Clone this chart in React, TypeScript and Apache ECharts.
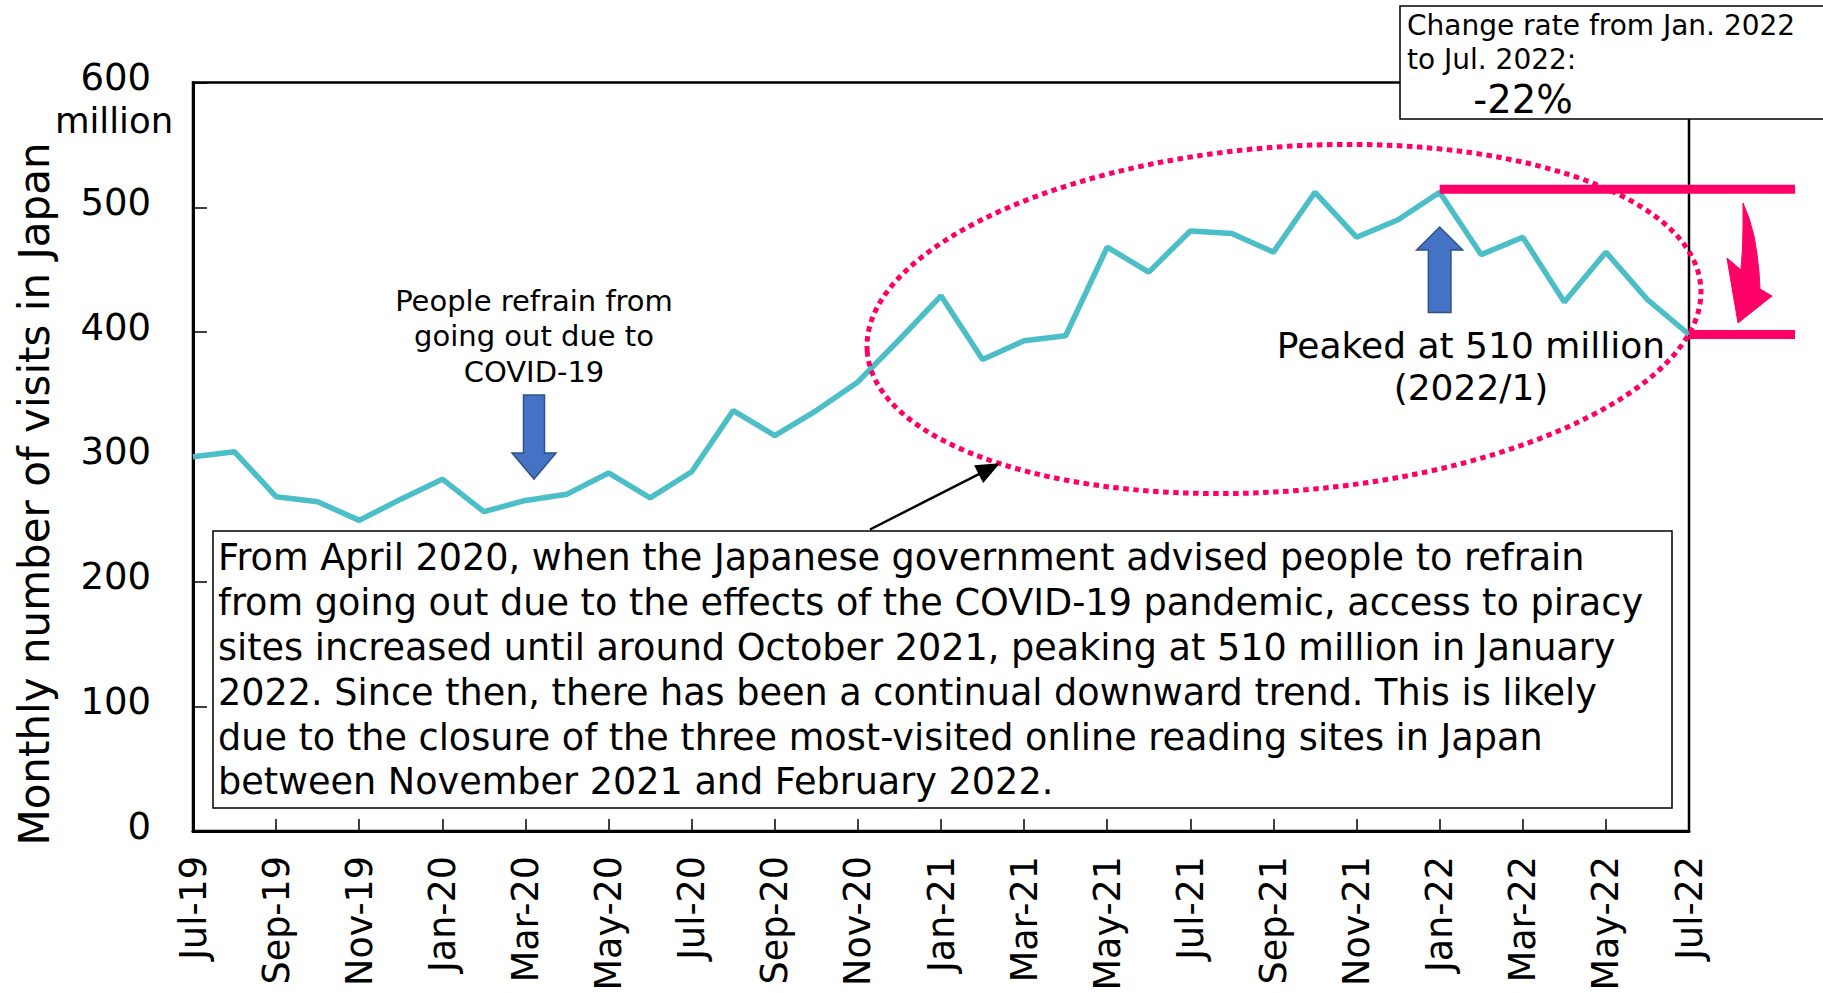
import React, { useEffect, useRef } from "react";
import * as echarts from "echarts";

const months = [
  "Jul-19", "Aug-19", "Sep-19", "Oct-19", "Nov-19", "Dec-19",
  "Jan-20", "Feb-20", "Mar-20", "Apr-20", "May-20", "Jun-20",
  "Jul-20", "Aug-20", "Sep-20", "Oct-20", "Nov-20", "Dec-20",
  "Jan-21", "Feb-21", "Mar-21", "Apr-21", "May-21", "Jun-21",
  "Jul-21", "Aug-21", "Sep-21", "Oct-21", "Nov-21", "Dec-21",
  "Jan-22", "Feb-22", "Mar-22", "Apr-22", "May-22", "Jun-22",
  "Jul-22",
];

// Monthly visits (millions)
const visits = [
  300, 304, 268, 264, 249, 266,
  282, 256, 265, 270, 287, 267,
  288, 337, 317, 337, 360, 394,
  429, 378, 393, 397, 468, 448,
  481, 479, 464, 512, 476, 490,
  512, 462, 476, 424, 464, 426,
  398,
];

const yMin = 0;
const yMax = 600;
const yStep = 100;

const peakMonth = "Jan-22";
const lastMonth = "Jul-22";

const yAxisTitle = "Monthly number of visits in Japan";
const yUnit = "million";
const covidNote = ["People refrain from", "going out due to", "COVID-19"];
const peakNote = ["Peaked at 510 million", "(2022/1)"];
const changeNote = ["Change rate from Jan. 2022", "to Jul. 2022:"];
const changeValue = "-22%";
const boxLines = [
  "From April 2020, when the Japanese government advised people to refrain",
  "from going out due to the effects of the COVID-19 pandemic, access to piracy",
  "sites increased until around October 2021, peaking at 510 million in January",
  "2022. Since then, there has been a continual downward trend. This is likely",
  "due to the closure of the three most-visited online reading sites in Japan",
  "between November 2021 and February 2022.",
];

const FONT = "'DejaVu Sans', Verdana, sans-serif";
const TEAL = "#4BBEC8";
const PINK = "#FF0066";
const BLUE = "#4472C4";
const BLUE_DARK = "#2F528F";

function txt(text: string, x: number, y: number, size: number, align = "left", extra: any = {}) {
  return {
    type: "text",
    z: 20,
    x,
    y,
    ...extra,
    style: {
      text,
      x: 0,
      y: 0,
      fontSize: size,
      fontFamily: FONT,
      fill: "#000",
      align,
      textAlign: align,
      verticalAlign: "middle",
      textVerticalAlign: "middle",
      ...(extra.style || {}),
    },
  };
}

export default function App() {
  const ref = useRef<HTMLDivElement>(null);

  useEffect(() => {
    document.body.style.margin = "0";
    document.body.style.overflow = "hidden";
    const chart = echarts.init(ref.current!, null, { renderer: "svg" });

    chart.setOption({
      animation: false,
      backgroundColor: "#fff",
      textStyle: { fontFamily: FONT },
      grid: {
        left: 193,
        right: 134,
        top: 82.5,
        bottom: 162,
        show: true,
        borderColor: "#000",
        borderWidth: 2.5,
        containLabel: false,
        outerBoundsMode: "none",
      },
      xAxis: {
        type: "category",
        data: months,
        boundaryGap: false,
        axisLine: { lineStyle: { color: "#000", width: 3 } },
        axisTick: {
          show: true,
          inside: true,
          length: 12,
          interval: 1,
          lineStyle: { color: "#000", width: 1.5 },
        },
        axisLabel: {
          interval: 1,
          rotate: 90,
          fontSize: 36.5,
          color: "#000",
          margin: 25,
          fontFamily: FONT,
        },
        splitLine: { show: false },
      },
      yAxis: {
        type: "value",
        min: yMin,
        max: yMax,
        interval: yStep,
        axisLine: { show: true, lineStyle: { color: "#000", width: 3 } },
        axisTick: {
          show: true,
          inside: true,
          length: 14,
          lineStyle: { color: "#000", width: 1.5 },
        },
        axisLabel: {
          color: "#000",
          margin: 42,
          fontFamily: FONT,
          formatter: (v: number) => `{t|${v}}`,
          rich: {
            t: { fontSize: 37, fontFamily: FONT, color: "#000", padding: [0, 0, 10, 0] },
          },
        },
        splitLine: { show: false },
      },
      series: [
        {
          type: "line",
          data: visits,
          symbol: "none",
          lineStyle: { color: TEAL, width: 5.5 },
          z: 3,
        },
      ],
    });

    const peakIdx = months.indexOf(peakMonth);
    const lastIdx = months.indexOf(lastMonth);
    const [peakX, peakY] = chart.convertToPixel({ gridIndex: 0 }, [peakIdx, visits[peakIdx]]) as number[];
    const [lastX, lastY] = chart.convertToPixel({ gridIndex: 0 }, [lastIdx, visits[lastIdx]]) as number[];
    const [, topY] = chart.convertToPixel({ gridIndex: 0 }, [0, yMax]) as number[];
    const pinkEnd = 1795;

    // black arrow geometry
    const ax0 = 870, ay0 = 529.5, ax1 = 1000, ay1 = 463.3;
    const dl = Math.hypot(ax1 - ax0, ay1 - ay0);
    const ux = (ax1 - ax0) / dl, uy = (ay1 - ay0) / dl;
    const hl = 24, hw = 10;
    const bx = ax1 - ux * hl, by = ay1 - uy * hl;

    const downCx = 534;
    const upCx = peakX;

    const graphic: any[] = [
      // y-axis title
      txt(yAxisTitle, 34, 494, 42, "center", { rotation: Math.PI / 2 }),
      // unit under 600
      txt(yUnit, 114, topY + 38, 35.5, "center"),
      // dotted ellipse
      {
        type: "ellipse",
        z: 15,
        x: 1284,
        y: 319,
        rotation: (4.5 * Math.PI) / 180,
        shape: { cx: 0, cy: 0, rx: 418, ry: 172 },
        style: { fill: "none", stroke: PINK, lineWidth: 5, lineDash: [5.5, 4.5] },
      },
      // covid note
      txt(covidNote.join("\n"), 534, 336, 29, "center", { style: { lineHeight: 35.5 } }),
      // down arrow
      {
        type: "polygon",
        z: 16,
        shape: {
          points: [
            [downCx - 10.5, 395], [downCx + 10.5, 395], [downCx + 10.5, 453],
            [downCx + 22, 453], [downCx, 479], [downCx - 22, 453], [downCx - 10.5, 453],
          ],
        },
        style: { fill: BLUE, stroke: BLUE_DARK, lineWidth: 1.5 },
      },
      // up arrow
      {
        type: "polygon",
        z: 16,
        shape: {
          points: [
            [upCx - 11.3, 312.5], [upCx + 11.3, 312.5], [upCx + 11.3, 250],
            [upCx + 23, 250], [upCx, 227], [upCx - 23, 250], [upCx - 11.3, 250],
          ],
        },
        style: { fill: BLUE, stroke: BLUE_DARK, lineWidth: 1.5 },
      },
      // peak note
      txt(peakNote.join("\n"), 1471, 366, 36, "center", { style: { lineHeight: 42 } }),
      // pink lines
      {
        type: "line",
        z: 17,
        shape: { x1: peakX, y1: peakY - 3, x2: pinkEnd, y2: peakY - 3 },
        style: { stroke: PINK, lineWidth: 9 },
      },
      {
        type: "line",
        z: 17,
        shape: { x1: lastX, y1: lastY, x2: pinkEnd, y2: lastY },
        style: { stroke: PINK, lineWidth: 9 },
      },
      // pink curved arrow
      {
        type: "polygon",
        z: 17,
        shape: {
          points: [
            [1743, 203], [1749, 218], [1754, 236], [1757, 254], [1759, 272], [1760, 289],
            [1772, 296], [1738, 323], [1727, 258], [1741, 270],
            [1742.5, 248], [1743, 226],
          ],
        },
        style: { fill: PINK, stroke: PINK, lineWidth: 1 },
      },
      // explanation box
      {
        type: "rect",
        z: 18,
        shape: { x: 213, y: 531, width: 1459, height: 277 },
        style: { fill: "#fff", stroke: "#000", lineWidth: 1.5 },
      },
      txt(boxLines.join("\n"), 218, 531 + 4.5, 36.6, "left", {
        style: { lineHeight: 44.8, verticalAlign: "top", textVerticalAlign: "top" },
      }),
      // black arrow
      {
        type: "line",
        z: 19,
        shape: { x1: ax0, y1: ay0, x2: bx + ux * 2, y2: by + uy * 2 },
        style: { stroke: "#000", lineWidth: 2.5 },
      },
      {
        type: "polygon",
        z: 19,
        shape: {
          points: [
            [ax1, ay1],
            [bx - uy * hw, by + ux * hw],
            [bx + uy * hw, by - ux * hw],
          ],
        },
        style: { fill: "#000" },
      },
      // change-rate box
      {
        type: "rect",
        z: 18,
        shape: { x: 1400, y: 6, width: 440, height: 113 },
        style: { fill: "#fff", stroke: "#000", lineWidth: 1.5 },
      },
      txt(changeNote.join("\n"), 1407, 42.3, 28, "left", { style: { lineHeight: 33.5 } }),
      txt(changeValue, 1523, 99, 38.5, "center"),
    ];

    chart.setOption({ graphic });

    return () => chart.dispose();
  }, []);

  return <div ref={ref} style={{ width: 1823, height: 993 }} />;
}
